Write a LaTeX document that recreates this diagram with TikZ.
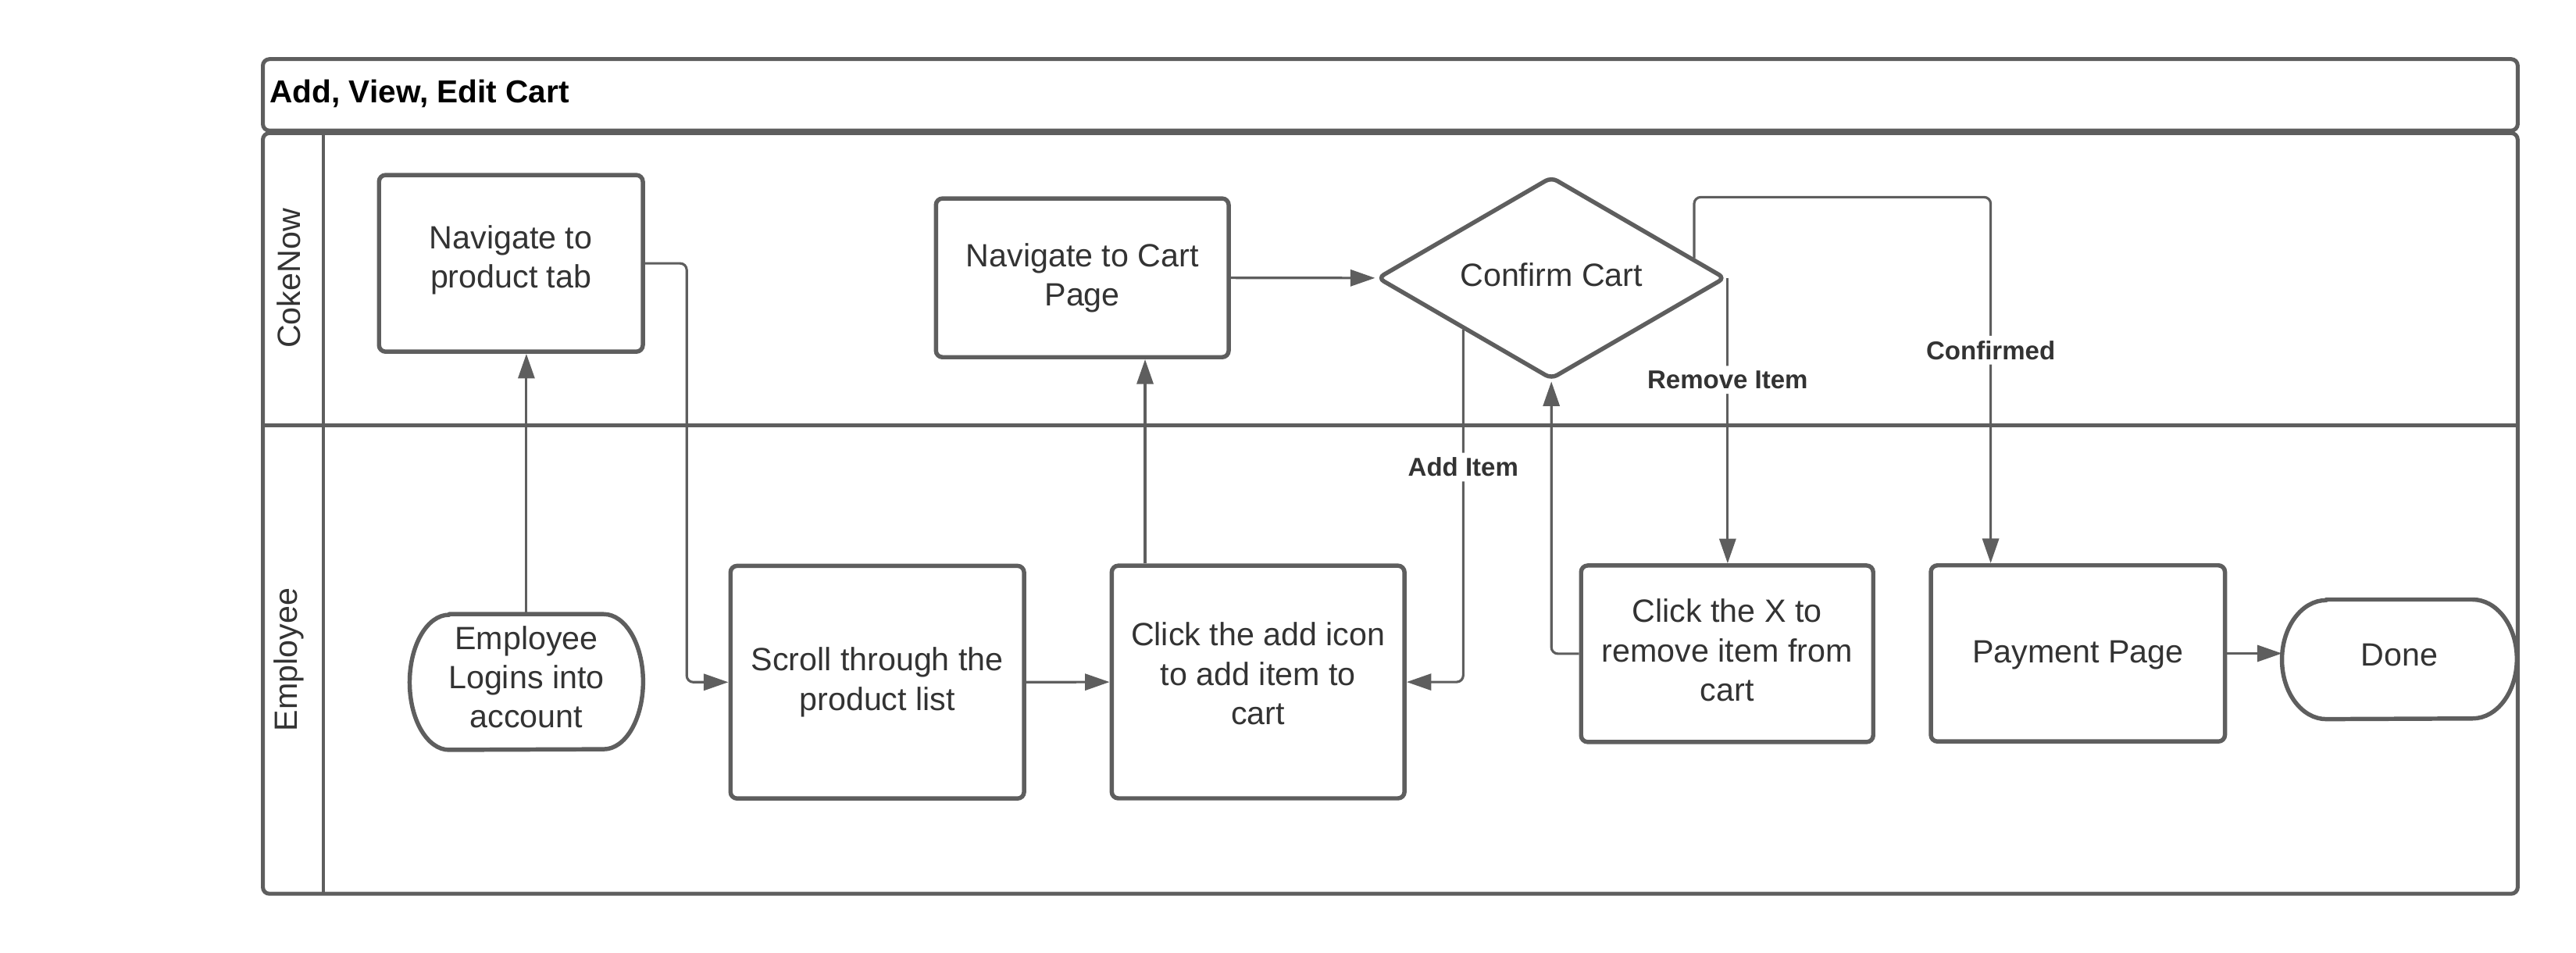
\documentclass[tikz,border=0pt]{standalone}
\usepackage{fontspec}
\setmainfont{Liberation Sans}
\usetikzlibrary{arrows.meta,calc,shapes.geometric}
\definecolor{lc}{RGB}{94,94,94}
\definecolor{tc}{RGB}{51,51,51}
\newcommand\myNodeFont{\fontsize{19.6pt}{24pt}\selectfont}
\newcommand\myLblFont{\fontsize{15.7pt}{19pt}\selectfont\bfseries}
\newcommand\myTitleFont{\fontsize{19.3pt}{23pt}\selectfont\bfseries}
\begin{document}
\begin{tikzpicture}[x=1pt,y=-1pt,
  box/.style={draw=lc, line width=2.6pt, rounded corners=4pt, fill=white, inner sep=0pt},
  txt/.style={text=tc, align=center, font=\myNodeFont, inner sep=0pt},
  term/.style={draw=none, inner sep=0pt},
  shapeline/.style={draw=lc, line width=2.6pt, fill=white, line join=round},
  frame/.style={draw=lc, line width=2.4pt, rounded corners=4pt},
  conn/.style={draw=lc, line width=1.5pt, rounded corners=4pt, -{Triangle[length=15pt,width=10pt]}},
  lbl/.style={fill=white, text=tc, font=\myLblFont, inner sep=3pt},
  lane/.style={text=tc, font=\myNodeFont, rotate=90, inner sep=0pt}]
\useasboundingbox (0,0) rectangle (1568,579.6);
% pool and lanes
\draw[frame] (160,36) rectangle (1532.5,79.5);
\draw[frame] (160,81) rectangle (1532.5,544);
\draw[draw=lc, line width=2.4pt] (160,259) -- (1532.5,259);
\draw[draw=lc, line width=2pt] (197,81) -- (197,544);
\node[anchor=west, font=\myTitleFont, inner sep=0pt] (title) at (164,57) {Add, View, Edit Cart};
\node[lane] (lanea) at (176,169.5) {CokeNow};
\node[lane] (laneb) at (176,401.5) {Employee};
% shapes
\node[box, minimum width=160.6pt, minimum height=107.5pt] (nprod) at (311,160.3) {};
\node[box, minimum width=178.2pt, minimum height=96.6pt] (ncart) at (658.8,169.1) {};
\node[diamond, draw=lc, line width=2.6pt, rounded corners=4pt, fill=white, inner sep=0pt, minimum width=212pt, minimum height=123.4pt] (conf) at (944.3,169.2) {};
\node[term, minimum width=141.7pt, minimum height=82.2pt] (login) at (320.4,415.1) {};
\draw[shapeline] ($(login.north west)+(24,0)$) -- ($(login.north east)+(-24,0)$)
  arc[start angle=90, end angle=-90, x radius=24pt, y radius=41.1pt]
  -- ($(login.south west)+(24,0)$)
  arc[start angle=270, end angle=90, x radius=24pt, y radius=41.1pt] -- cycle;
\node[box, minimum width=178.7pt, minimum height=141.6pt] (scroll) at (534,415.2) {};
\node[box, minimum width=178.2pt, minimum height=141.6pt] (add) at (765.8,415.1) {};
\node[box, minimum width=177.8pt, minimum height=107.4pt] (remx) at (1051.3,397.9) {};
\node[box, minimum width=179pt, minimum height=107.2pt] (pay) at (1264.8,397.7) {};
\node[term, minimum width=142.6pt, minimum height=72.4pt] (done) at (1460.5,401.3) {};
\draw[shapeline] ($(done.north west)+(27,0)$) -- ($(done.north east)+(-27,0)$)
  arc[start angle=90, end angle=-90, x radius=27pt, y radius=36.2pt]
  -- ($(done.south west)+(27,0)$)
  arc[start angle=270, end angle=90, x radius=27pt, y radius=36.2pt] -- cycle;
% texts
\node[txt] (nprodt) at ($(nprod.center)+(0,-2)$) {Navigate to\\product tab};
\node[txt] (ncartt) at ($(ncart.center)+(0,0)$) {Navigate to Cart\\Page};
\node[txt] (conft) at ($(conf.center)+(0,-2)$) {Confirm Cart};
\node[txt] (logint) at ($(login.center)+(0,-3)$) {Employee\\Logins into\\account};
\node[txt] (scrollt) at ($(scroll.center)+(0,0)$) {Scroll through the\\product list};
\node[txt] (addt) at ($(add.center)+(0,-5)$) {Click the add icon\\to add item to\\cart};
\node[txt] (remxt) at ($(remx.center)+(0,-2)$) {Click the X to\\remove item from\\cart};
\node[txt] (payt) at ($(pay.center)+(0,1)$) {Payment Page};
\node[txt] (donet) at ($(done.center)+(0,-2.5)$) {Done};
% helper coordinates
\coordinate (xa) at (418,0);
\coordinate (xb) at (697,0);
\coordinate (xc) at (1211.7,0);
\coordinate (yt) at (0,120);
\coordinate (cfa) at ($(conf.west)!0.5!(conf.south)$);
\coordinate (cfc) at ($(conf.north)!0.81!(conf.east)$);
% connectors
\draw[conn] (login.north) -- (login.north |- nprod.south);
\draw[conn] (nprod.east) -| (xa |- scroll.west) -- (scroll.west);
\draw[conn] (scroll.east) -- (add.west);
\draw[conn] (xb |- add.north) -- (xb |- ncart.south);
\draw[conn] (ncart.east) -- (conf.west);
\draw[conn] (cfa) -- node[lbl, pos=0.39] {Add Item} (cfa |- add.east) -- (add.east);
\draw[conn] (remx.west) -| (conf.south);
\draw[conn] (conf.east) -- node[lbl, pos=0.357] {Remove Item} (conf.east |- remx.north);
\draw[conn] (cfc) -- (cfc |- yt) -- (xc |- yt) -- node[lbl, pos=0.418] {Confirmed} (xc |- pay.north);
\draw[conn] (pay.east) -- (pay.east -| done.west);
\end{tikzpicture}
\end{document}
